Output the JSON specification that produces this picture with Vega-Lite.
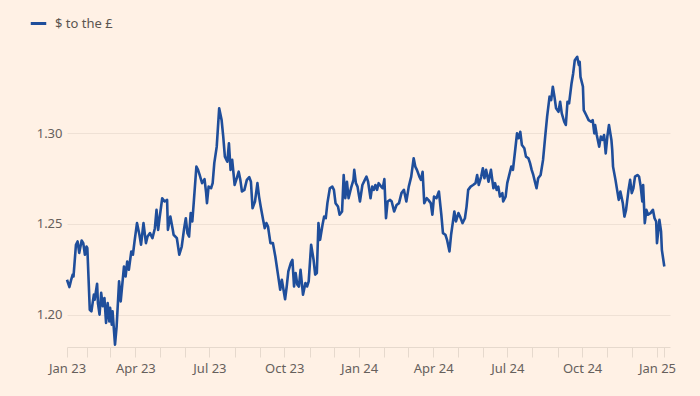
{
  "$schema": "https://vega.github.io/schema/vega-lite/v6.json",
  "width": 603,
  "height": 305,
  "autosize": {"type": "none"},
  "padding": {"left": 67, "top": 42, "right": 30, "bottom": 49},
  "background": "#FFF1E5",
  "config": {"view": {"stroke": null}, "font": "Noto Sans"},
  "data": {"values": [
    {"date": "2023-01-07", "rate": 1.2192},
    {"date": "2023-01-10", "rate": 1.2152},
    {"date": "2023-01-12", "rate": 1.219},
    {"date": "2023-01-14", "rate": 1.222},
    {"date": "2023-01-15", "rate": 1.221},
    {"date": "2023-01-18", "rate": 1.2385},
    {"date": "2023-01-20", "rate": 1.2403},
    {"date": "2023-01-22", "rate": 1.234},
    {"date": "2023-01-25", "rate": 1.2408},
    {"date": "2023-01-27", "rate": 1.2394},
    {"date": "2023-01-29", "rate": 1.233},
    {"date": "2023-01-31", "rate": 1.2375},
    {"date": "2023-02-01", "rate": 1.2366},
    {"date": "2023-02-04", "rate": 1.2027},
    {"date": "2023-02-06", "rate": 1.2018},
    {"date": "2023-02-09", "rate": 1.211},
    {"date": "2023-02-10", "rate": 1.2082},
    {"date": "2023-02-13", "rate": 1.217},
    {"date": "2023-02-14", "rate": 1.2064},
    {"date": "2023-02-16", "rate": 1.2},
    {"date": "2023-02-18", "rate": 1.212},
    {"date": "2023-02-20", "rate": 1.2046},
    {"date": "2023-02-22", "rate": 1.2092},
    {"date": "2023-02-24", "rate": 1.1955},
    {"date": "2023-02-26", "rate": 1.2064},
    {"date": "2023-02-28", "rate": 1.1963},
    {"date": "2023-03-01", "rate": 1.2038},
    {"date": "2023-03-03", "rate": 1.1945},
    {"date": "2023-03-04", "rate": 1.2018},
    {"date": "2023-03-07", "rate": 1.1835},
    {"date": "2023-03-09", "rate": 1.1936},
    {"date": "2023-03-12", "rate": 1.2183},
    {"date": "2023-03-14", "rate": 1.2073},
    {"date": "2023-03-18", "rate": 1.2265},
    {"date": "2023-03-20", "rate": 1.221},
    {"date": "2023-03-22", "rate": 1.2293},
    {"date": "2023-03-24", "rate": 1.2247},
    {"date": "2023-03-27", "rate": 1.2348},
    {"date": "2023-03-29", "rate": 1.233},
    {"date": "2023-03-31", "rate": 1.2403},
    {"date": "2023-04-03", "rate": 1.2504},
    {"date": "2023-04-06", "rate": 1.244},
    {"date": "2023-04-08", "rate": 1.2385},
    {"date": "2023-04-11", "rate": 1.2504},
    {"date": "2023-04-14", "rate": 1.2394},
    {"date": "2023-04-16", "rate": 1.243},
    {"date": "2023-04-19", "rate": 1.2449},
    {"date": "2023-04-22", "rate": 1.2421},
    {"date": "2023-04-25", "rate": 1.2476},
    {"date": "2023-04-27", "rate": 1.2577},
    {"date": "2023-04-29", "rate": 1.2467},
    {"date": "2023-05-01", "rate": 1.254},
    {"date": "2023-05-04", "rate": 1.2641},
    {"date": "2023-05-07", "rate": 1.2623},
    {"date": "2023-05-10", "rate": 1.2632},
    {"date": "2023-05-11", "rate": 1.2467},
    {"date": "2023-05-14", "rate": 1.254},
    {"date": "2023-05-17", "rate": 1.2467},
    {"date": "2023-05-18", "rate": 1.244},
    {"date": "2023-05-22", "rate": 1.2421},
    {"date": "2023-05-25", "rate": 1.233},
    {"date": "2023-05-28", "rate": 1.2375},
    {"date": "2023-05-31", "rate": 1.2476},
    {"date": "2023-06-02", "rate": 1.2531},
    {"date": "2023-06-04", "rate": 1.2449},
    {"date": "2023-06-06", "rate": 1.243},
    {"date": "2023-06-08", "rate": 1.2559},
    {"date": "2023-06-10", "rate": 1.2513},
    {"date": "2023-06-12", "rate": 1.2632},
    {"date": "2023-06-15", "rate": 1.2815},
    {"date": "2023-06-17", "rate": 1.2797},
    {"date": "2023-06-19", "rate": 1.2769},
    {"date": "2023-06-22", "rate": 1.2724},
    {"date": "2023-06-25", "rate": 1.2746},
    {"date": "2023-06-27", "rate": 1.2669},
    {"date": "2023-06-28", "rate": 1.2614},
    {"date": "2023-06-30", "rate": 1.2705},
    {"date": "2023-07-03", "rate": 1.2696},
    {"date": "2023-07-05", "rate": 1.2724},
    {"date": "2023-07-07", "rate": 1.2834},
    {"date": "2023-07-10", "rate": 1.2925},
    {"date": "2023-07-13", "rate": 1.3136},
    {"date": "2023-07-16", "rate": 1.3071},
    {"date": "2023-07-18", "rate": 1.298},
    {"date": "2023-07-20", "rate": 1.287},
    {"date": "2023-07-23", "rate": 1.2842},
    {"date": "2023-07-25", "rate": 1.2943},
    {"date": "2023-07-27", "rate": 1.2797},
    {"date": "2023-07-29", "rate": 1.2852},
    {"date": "2023-08-01", "rate": 1.2714},
    {"date": "2023-08-03", "rate": 1.2742},
    {"date": "2023-08-06", "rate": 1.2787},
    {"date": "2023-08-08", "rate": 1.2742},
    {"date": "2023-08-10", "rate": 1.2678},
    {"date": "2023-08-13", "rate": 1.2687},
    {"date": "2023-08-16", "rate": 1.2742},
    {"date": "2023-08-19", "rate": 1.2757},
    {"date": "2023-08-21", "rate": 1.2732},
    {"date": "2023-08-23", "rate": 1.2586},
    {"date": "2023-08-26", "rate": 1.2623},
    {"date": "2023-08-29", "rate": 1.2724},
    {"date": "2023-08-31", "rate": 1.265},
    {"date": "2023-09-02", "rate": 1.2595},
    {"date": "2023-09-05", "rate": 1.2522},
    {"date": "2023-09-07", "rate": 1.2476},
    {"date": "2023-09-09", "rate": 1.2504},
    {"date": "2023-09-11", "rate": 1.2485},
    {"date": "2023-09-14", "rate": 1.2394},
    {"date": "2023-09-17", "rate": 1.2394},
    {"date": "2023-09-20", "rate": 1.232},
    {"date": "2023-09-23", "rate": 1.2229},
    {"date": "2023-09-26", "rate": 1.2137},
    {"date": "2023-09-28", "rate": 1.2192},
    {"date": "2023-10-02", "rate": 1.2085},
    {"date": "2023-10-04", "rate": 1.2155},
    {"date": "2023-10-06", "rate": 1.2238},
    {"date": "2023-10-09", "rate": 1.2284},
    {"date": "2023-10-11", "rate": 1.2302},
    {"date": "2023-10-12", "rate": 1.2229},
    {"date": "2023-10-13", "rate": 1.2155},
    {"date": "2023-10-15", "rate": 1.2229},
    {"date": "2023-10-17", "rate": 1.2165},
    {"date": "2023-10-19", "rate": 1.2155},
    {"date": "2023-10-21", "rate": 1.2247},
    {"date": "2023-10-24", "rate": 1.211},
    {"date": "2023-10-27", "rate": 1.2174},
    {"date": "2023-10-29", "rate": 1.2155},
    {"date": "2023-10-31", "rate": 1.2183},
    {"date": "2023-11-03", "rate": 1.2385},
    {"date": "2023-11-06", "rate": 1.2302},
    {"date": "2023-11-08", "rate": 1.222},
    {"date": "2023-11-10", "rate": 1.2229},
    {"date": "2023-11-12", "rate": 1.2504},
    {"date": "2023-11-14", "rate": 1.2412},
    {"date": "2023-11-17", "rate": 1.2495},
    {"date": "2023-11-19", "rate": 1.254},
    {"date": "2023-11-21", "rate": 1.2531},
    {"date": "2023-11-23", "rate": 1.2614},
    {"date": "2023-11-26", "rate": 1.2696},
    {"date": "2023-11-29", "rate": 1.2705},
    {"date": "2023-12-01", "rate": 1.2687},
    {"date": "2023-12-03", "rate": 1.2614},
    {"date": "2023-12-06", "rate": 1.2595},
    {"date": "2023-12-08", "rate": 1.255},
    {"date": "2023-12-11", "rate": 1.2568},
    {"date": "2023-12-13", "rate": 1.2769},
    {"date": "2023-12-15", "rate": 1.2641},
    {"date": "2023-12-17", "rate": 1.2732},
    {"date": "2023-12-19", "rate": 1.2641},
    {"date": "2023-12-22", "rate": 1.2696},
    {"date": "2023-12-25", "rate": 1.2742},
    {"date": "2023-12-26", "rate": 1.2797},
    {"date": "2023-12-28", "rate": 1.2724},
    {"date": "2023-12-30", "rate": 1.2705},
    {"date": "2024-01-02", "rate": 1.2623},
    {"date": "2024-01-05", "rate": 1.2714},
    {"date": "2024-01-08", "rate": 1.2742},
    {"date": "2024-01-10", "rate": 1.276},
    {"date": "2024-01-12", "rate": 1.2732},
    {"date": "2024-01-15", "rate": 1.2641},
    {"date": "2024-01-17", "rate": 1.2705},
    {"date": "2024-01-19", "rate": 1.2687},
    {"date": "2024-01-21", "rate": 1.2714},
    {"date": "2024-01-23", "rate": 1.2687},
    {"date": "2024-01-25", "rate": 1.2724},
    {"date": "2024-01-28", "rate": 1.2705},
    {"date": "2024-01-30", "rate": 1.2696},
    {"date": "2024-02-01", "rate": 1.2746},
    {"date": "2024-02-03", "rate": 1.2531},
    {"date": "2024-02-05", "rate": 1.2623},
    {"date": "2024-02-08", "rate": 1.2632},
    {"date": "2024-02-10", "rate": 1.2623},
    {"date": "2024-02-13", "rate": 1.2568},
    {"date": "2024-02-16", "rate": 1.2604},
    {"date": "2024-02-19", "rate": 1.2614},
    {"date": "2024-02-22", "rate": 1.2669},
    {"date": "2024-02-25", "rate": 1.2687},
    {"date": "2024-02-28", "rate": 1.2623},
    {"date": "2024-03-02", "rate": 1.2705},
    {"date": "2024-03-05", "rate": 1.276},
    {"date": "2024-03-08", "rate": 1.2861},
    {"date": "2024-03-10", "rate": 1.2815},
    {"date": "2024-03-12", "rate": 1.2797},
    {"date": "2024-03-15", "rate": 1.276},
    {"date": "2024-03-17", "rate": 1.2742},
    {"date": "2024-03-19", "rate": 1.2787},
    {"date": "2024-03-21", "rate": 1.2614},
    {"date": "2024-03-24", "rate": 1.2641},
    {"date": "2024-03-26", "rate": 1.2632},
    {"date": "2024-03-29", "rate": 1.2614},
    {"date": "2024-03-31", "rate": 1.255},
    {"date": "2024-04-02", "rate": 1.265},
    {"date": "2024-04-05", "rate": 1.2641},
    {"date": "2024-04-08", "rate": 1.2678},
    {"date": "2024-04-11", "rate": 1.255},
    {"date": "2024-04-13", "rate": 1.2449},
    {"date": "2024-04-16", "rate": 1.244},
    {"date": "2024-04-18", "rate": 1.2412},
    {"date": "2024-04-21", "rate": 1.2348},
    {"date": "2024-04-23", "rate": 1.244},
    {"date": "2024-04-25", "rate": 1.2504},
    {"date": "2024-04-27", "rate": 1.2568},
    {"date": "2024-04-29", "rate": 1.2513},
    {"date": "2024-05-02", "rate": 1.2559},
    {"date": "2024-05-04", "rate": 1.254},
    {"date": "2024-05-07", "rate": 1.2504},
    {"date": "2024-05-10", "rate": 1.2531},
    {"date": "2024-05-12", "rate": 1.2595},
    {"date": "2024-05-14", "rate": 1.2687},
    {"date": "2024-05-17", "rate": 1.2705},
    {"date": "2024-05-20", "rate": 1.2714},
    {"date": "2024-05-23", "rate": 1.2724},
    {"date": "2024-05-25", "rate": 1.2769},
    {"date": "2024-05-27", "rate": 1.2714},
    {"date": "2024-05-30", "rate": 1.276},
    {"date": "2024-06-01", "rate": 1.2806},
    {"date": "2024-06-03", "rate": 1.2751},
    {"date": "2024-06-05", "rate": 1.2797},
    {"date": "2024-06-08", "rate": 1.2732},
    {"date": "2024-06-11", "rate": 1.2797},
    {"date": "2024-06-14", "rate": 1.2696},
    {"date": "2024-06-16", "rate": 1.2724},
    {"date": "2024-06-18", "rate": 1.2687},
    {"date": "2024-06-20", "rate": 1.2705},
    {"date": "2024-06-22", "rate": 1.265},
    {"date": "2024-06-25", "rate": 1.2669},
    {"date": "2024-06-26", "rate": 1.2623},
    {"date": "2024-06-29", "rate": 1.265},
    {"date": "2024-07-01", "rate": 1.2724},
    {"date": "2024-07-04", "rate": 1.2779},
    {"date": "2024-07-06", "rate": 1.2815},
    {"date": "2024-07-08", "rate": 1.2797},
    {"date": "2024-07-11", "rate": 1.2916},
    {"date": "2024-07-13", "rate": 1.2998},
    {"date": "2024-07-15", "rate": 1.2971},
    {"date": "2024-07-17", "rate": 1.3007},
    {"date": "2024-07-19", "rate": 1.2934},
    {"date": "2024-07-22", "rate": 1.2916},
    {"date": "2024-07-24", "rate": 1.287},
    {"date": "2024-07-27", "rate": 1.2861},
    {"date": "2024-07-29", "rate": 1.2834},
    {"date": "2024-07-31", "rate": 1.2797},
    {"date": "2024-08-02", "rate": 1.2769},
    {"date": "2024-08-04", "rate": 1.2732},
    {"date": "2024-08-06", "rate": 1.2696},
    {"date": "2024-08-08", "rate": 1.2751},
    {"date": "2024-08-11", "rate": 1.2769},
    {"date": "2024-08-14", "rate": 1.2852},
    {"date": "2024-08-17", "rate": 1.2998},
    {"date": "2024-08-19", "rate": 1.309},
    {"date": "2024-08-22", "rate": 1.32},
    {"date": "2024-08-24", "rate": 1.3181},
    {"date": "2024-08-26", "rate": 1.3255},
    {"date": "2024-08-28", "rate": 1.32},
    {"date": "2024-08-30", "rate": 1.3136},
    {"date": "2024-09-02", "rate": 1.3117},
    {"date": "2024-09-04", "rate": 1.3172},
    {"date": "2024-09-06", "rate": 1.3108},
    {"date": "2024-09-09", "rate": 1.3062},
    {"date": "2024-09-11", "rate": 1.3044},
    {"date": "2024-09-13", "rate": 1.3172},
    {"date": "2024-09-15", "rate": 1.3163},
    {"date": "2024-09-18", "rate": 1.3273},
    {"date": "2024-09-20", "rate": 1.3328},
    {"date": "2024-09-22", "rate": 1.3401},
    {"date": "2024-09-25", "rate": 1.3419},
    {"date": "2024-09-27", "rate": 1.3374},
    {"date": "2024-09-28", "rate": 1.3392},
    {"date": "2024-09-29", "rate": 1.3309},
    {"date": "2024-10-02", "rate": 1.3255},
    {"date": "2024-10-03", "rate": 1.3126},
    {"date": "2024-10-06", "rate": 1.3099},
    {"date": "2024-10-09", "rate": 1.3071},
    {"date": "2024-10-12", "rate": 1.3062},
    {"date": "2024-10-14", "rate": 1.3071},
    {"date": "2024-10-16", "rate": 1.2998},
    {"date": "2024-10-17", "rate": 1.3044},
    {"date": "2024-10-19", "rate": 1.2989},
    {"date": "2024-10-22", "rate": 1.2925},
    {"date": "2024-10-24", "rate": 1.298},
    {"date": "2024-10-26", "rate": 1.2962},
    {"date": "2024-10-28", "rate": 1.2989},
    {"date": "2024-10-30", "rate": 1.2888},
    {"date": "2024-11-01", "rate": 1.298},
    {"date": "2024-11-03", "rate": 1.3044},
    {"date": "2024-11-06", "rate": 1.2962},
    {"date": "2024-11-07", "rate": 1.2907},
    {"date": "2024-11-08", "rate": 1.2815},
    {"date": "2024-11-11", "rate": 1.2742},
    {"date": "2024-11-13", "rate": 1.2687},
    {"date": "2024-11-15", "rate": 1.2632},
    {"date": "2024-11-17", "rate": 1.2678},
    {"date": "2024-11-20", "rate": 1.2614},
    {"date": "2024-11-22", "rate": 1.254},
    {"date": "2024-11-24", "rate": 1.2577},
    {"date": "2024-11-27", "rate": 1.2687},
    {"date": "2024-11-29", "rate": 1.2742},
    {"date": "2024-12-01", "rate": 1.2669},
    {"date": "2024-12-03", "rate": 1.2696},
    {"date": "2024-12-05", "rate": 1.276},
    {"date": "2024-12-08", "rate": 1.2769},
    {"date": "2024-12-10", "rate": 1.276},
    {"date": "2024-12-12", "rate": 1.2705},
    {"date": "2024-12-14", "rate": 1.2623},
    {"date": "2024-12-15", "rate": 1.2714},
    {"date": "2024-12-17", "rate": 1.2504},
    {"date": "2024-12-19", "rate": 1.2577},
    {"date": "2024-12-21", "rate": 1.255},
    {"date": "2024-12-24", "rate": 1.2559},
    {"date": "2024-12-27", "rate": 1.2577},
    {"date": "2024-12-29", "rate": 1.2531},
    {"date": "2024-12-31", "rate": 1.2513},
    {"date": "2025-01-01", "rate": 1.2394},
    {"date": "2025-01-04", "rate": 1.2522},
    {"date": "2025-01-06", "rate": 1.2458},
    {"date": "2025-01-07", "rate": 1.2357},
    {"date": "2025-01-10", "rate": 1.2265}
  ]},
  "mark": {"type": "line", "strokeWidth": 2.6, "strokeJoin": "round", "clip": false},
  "encoding": {
    "x": {
      "field": "date",
      "type": "temporal",
      "scale": {
        "type": "utc",
        "domain": [
          {"year": 2023, "month": 1, "date": 7, "utc": true},
          {"year": 2025, "month": 1, "date": 17, "utc": true}
        ]
      },
      "axis": {
        "title": null,
        "grid": false,
        "values": [
          {"year": 2023, "month": 1, "date": 7, "utc": true},
          {"year": 2023, "month": 2, "date": 1, "utc": true},
          {"year": 2023, "month": 3, "date": 1, "utc": true},
          {"year": 2023, "month": 4, "date": 1, "utc": true},
          {"year": 2023, "month": 5, "date": 1, "utc": true},
          {"year": 2023, "month": 6, "date": 1, "utc": true},
          {"year": 2023, "month": 7, "date": 1, "utc": true},
          {"year": 2023, "month": 8, "date": 1, "utc": true},
          {"year": 2023, "month": 9, "date": 1, "utc": true},
          {"year": 2023, "month": 10, "date": 1, "utc": true},
          {"year": 2023, "month": 11, "date": 1, "utc": true},
          {"year": 2023, "month": 12, "date": 1, "utc": true},
          {"year": 2024, "month": 1, "date": 1, "utc": true},
          {"year": 2024, "month": 2, "date": 1, "utc": true},
          {"year": 2024, "month": 3, "date": 1, "utc": true},
          {"year": 2024, "month": 4, "date": 1, "utc": true},
          {"year": 2024, "month": 5, "date": 1, "utc": true},
          {"year": 2024, "month": 6, "date": 1, "utc": true},
          {"year": 2024, "month": 7, "date": 1, "utc": true},
          {"year": 2024, "month": 8, "date": 1, "utc": true},
          {"year": 2024, "month": 9, "date": 1, "utc": true},
          {"year": 2024, "month": 10, "date": 1, "utc": true},
          {"year": 2024, "month": 11, "date": 1, "utc": true},
          {"year": 2024, "month": 12, "date": 1, "utc": true},
          {"year": 2025, "month": 1, "date": 1, "utc": true},
          {"year": 2025, "month": 1, "date": 10, "utc": true}
        ],
        "labelExpr": "utcdate(datum.value) <= 7 && utcmonth(datum.value) % 3 == 0 ? utcFormat(datum.value, '%b %y') : ''",
        "labelOverlap": false,
        "labelFlush": false,
        "domainColor": "#e6d9cd",
        "tickColor": "#e6d9cd",
        "tickSize": 10,
        "labelColor": "#66605c",
        "labelFontSize": 13,
        "labelPadding": 5
      }
    },
    "y": {
      "field": "rate",
      "type": "quantitative",
      "scale": {"domain": [1.1822, 1.3501], "zero": false, "nice": false},
      "axis": {
        "title": null,
        "values": [1.2, 1.25, 1.3],
        "format": ".2f",
        "domain": false,
        "ticks": false,
        "gridColor": "#efe1d5",
        "labelColor": "#66605c",
        "labelFontSize": 13,
        "labelPadding": 5
      }
    },
    "color": {
      "datum": "$ to the £",
      "scale": {"range": ["#1f4e9b"]},
      "legend": {
        "orient": "none",
        "legendX": -38,
        "legendY": -28,
        "title": null,
        "symbolType": "stroke",
        "symbolStrokeWidth": 3,
        "symbolSize": 240,
        "labelFontSize": 13,
        "labelColor": "#5a5550",
        "labelOffset": 7
      }
    }
  }
}
